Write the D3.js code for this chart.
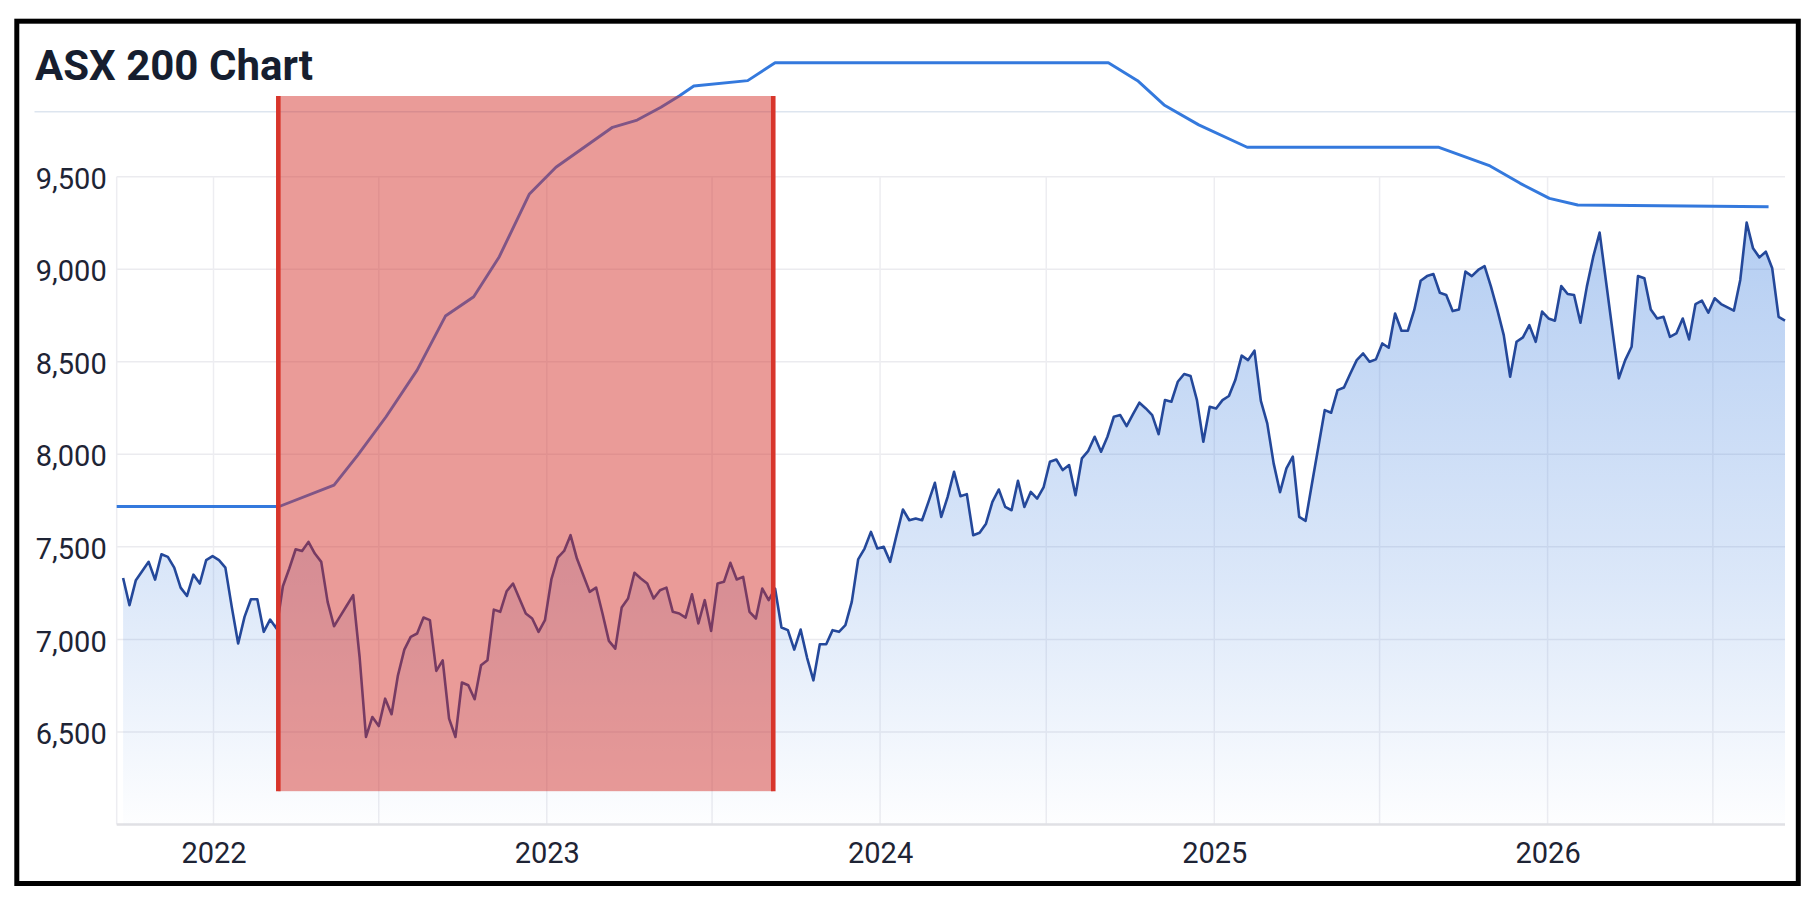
<!DOCTYPE html>
<html>
<head>
<meta charset="utf-8">
<script src="https://d3js.org/d3.v7.min.js"></script>
<style>
  body { margin: 0; background: #fff; }
  text { font-family: Roboto, "Liberation Sans", sans-serif; }
</style>
</head>
<body>
<svg id="chart" width="1816" height="906"></svg>
<script>
try {

/*========================================
	Data
========================================*/

// weekly closes, first one on this friday
var firstWeek = "2021-09-24";

var asxValues = [
  7332, 7185, 7320, 7370, 7419, 7323, 7460, 7446, 7388, 7280,
  7235, 7350, 7302, 7428, 7450, 7428, 7388, 7176, 6978, 7122,
  7217, 7217, 7041, 7107, 7059, 7287, 7383, 7487, 7478, 7527,
  7464, 7419, 7203, 7071, 7127, 7183, 7239, 6905, 6473, 6581,
  6532, 6680, 6596, 6806, 6945, 7014, 7032, 7118, 7104, 6830,
  6887, 6572, 6473, 6767, 6752, 6677, 6860, 6887, 7161, 7149,
  7260, 7302, 7221, 7140, 7113, 7041, 7104, 7324, 7442, 7478,
  7563, 7437, 7347, 7257, 7280, 7140, 6992, 6950, 7172, 7221,
  7360, 7329, 7302, 7221, 7266, 7280, 7149, 7140, 7118, 7244,
  7086, 7212, 7046, 7302, 7311, 7414, 7324, 7338, 7149, 7113,
  7275, 7212, 7275, 7064, 7050, 6945, 7053, 6902, 6779, 6974,
  6974, 7050, 7041, 7077, 7203, 7432, 7491, 7581, 7491, 7500,
  7419, 7563, 7702, 7644, 7653, 7644, 7743, 7846, 7662, 7770,
  7906, 7774, 7785, 7563, 7576, 7625, 7743, 7810, 7716, 7698,
  7857, 7716, 7797, 7761, 7821, 7960, 7972, 7915, 7942, 7779,
  7978, 8019, 8095, 8014, 8095, 8203, 8212, 8152, 8217, 8279,
  8248, 8212, 8109, 8293, 8284, 8392, 8434, 8423, 8293, 8068,
  8257, 8248, 8293, 8315, 8401, 8533, 8509, 8560, 8289, 8167,
  7951, 7795, 7924, 7987, 7662, 7641, 7842, 8041, 8239, 8225,
  8347, 8361, 8437, 8509, 8545, 8500, 8513, 8599, 8576, 8761,
  8668, 8668, 8780, 8938, 8963, 8974, 8873, 8861, 8774, 8783,
  8987, 8963, 8996, 9017, 8906, 8780, 8644, 8419, 8608, 8632,
  8698, 8608, 8771, 8734, 8722, 8909, 8866, 8861, 8711, 8906,
  9068, 9198, 8934, 8671, 8410, 8509, 8581, 8963, 8951, 8783,
  8734, 8743, 8635, 8653, 8734, 8621, 8812, 8830, 8765, 8843,
  8812, 8794, 8776, 8942, 9252, 9113, 9064, 9095, 9005, 8743, 8722
];

// upper blue line (same scale as the index)
var rateDates = [
  "2021-09-17", "2022-03-14", "2022-05-13", "2022-06-08", "2022-07-09",
  "2022-08-12", "2022-09-12", "2022-10-13", "2022-11-10", "2022-12-13",
  "2023-01-11", "2023-03-14", "2023-04-10", "2023-05-06", "2023-05-26",
  "2023-06-11", "2023-08-09", "2023-09-08", "2024-09-07", "2024-10-09",
  "2024-11-07", "2024-12-15", "2025-02-06", "2025-09-04", "2025-10-30",
  "2025-12-02", "2026-01-03", "2026-02-03", "2026-08-31"
];
var rateValues = [
  7718, 7718, 7834, 7996, 8203,
  8455, 8747, 8851, 9068, 9407,
  9551, 9767, 9806, 9875, 9936,
  9990, 10019, 10116, 10116, 10019,
  9888, 9780, 9659, 9659, 9558,
  9464, 9383, 9347, 9338
];

// highlighted red period
var bandDates = ["2022-03-13", "2023-09-06"];
var bandValues = [6180, 9936];

var xDomainDates = ["2021-09-17", "2026-09-18"];
var yDomain = [6000, 9500];
var yTicks = [6500, 7000, 7500, 8000, 8500, 9000, 9500];

var titleText = "ASX 200 Chart";

/*========================================
	Setup
========================================*/

var parseDate = d3.timeParse("%Y-%m-%d");
var svg = d3.select("#chart");

var plot = { left: 116.7, right: 1785, top: 176.7, bottom: 824.5 };

var x = d3.scaleTime()
  .domain(xDomainDates.map(parseDate))
  .range([plot.left, plot.right]);

var y = d3.scaleLinear()
  .domain(yDomain)
  .range([plot.bottom, plot.top]);

var start = parseDate(firstWeek);
var asxData = asxValues.map(function(v, i){
  return { date: d3.timeDay.offset(start, i * 7), value: v };
});
var rateData = rateDates.map(function(d, i){
  return { date: parseDate(d), value: rateValues[i] };
});

svg.append("rect")
  .attr("width", 1816).attr("height", 906)
  .attr("fill", "#fff");

// header separator
svg.append("line")
  .attr("x1", 34.5).attr("x2", 1796)
  .attr("y1", 111.7).attr("y2", 111.7)
  .attr("stroke", "#dde5ef")
  .attr("stroke-width", 1.6);

/*========================================
	Grid
========================================*/

var grid = svg.append("g");

grid.selectAll(".hgrid")
  .data(yTicks)
  .enter().append("line")
  .attr("class", "hgrid")
  .attr("x1", plot.left).attr("x2", plot.right)
  .attr("y1", function(d){ return y(d); })
  .attr("y2", function(d){ return y(d); })
  .attr("stroke", "#ebebef")
  .attr("stroke-width", 1.5);

var halfYears = x.ticks(d3.timeMonth.every(6));
grid.selectAll(".vgrid")
  .data([x.domain()[0]].concat(halfYears))
  .enter().append("line")
  .attr("class", "vgrid")
  .attr("x1", function(d){ return x(d); })
  .attr("x2", function(d){ return x(d); })
  .attr("y1", plot.top).attr("y2", plot.bottom)
  .attr("stroke", "#ededf1")
  .attr("stroke-width", 1.5);

// bottom base line
svg.append("line")
  .attr("x1", plot.left).attr("x2", plot.right)
  .attr("y1", y(yDomain[0])).attr("y2", y(yDomain[0]))
  .attr("stroke", "#e1e1e5")
  .attr("stroke-width", 2.6);

/*========================================
	Series
========================================*/

var defs = svg.append("defs");
var grad = defs.append("linearGradient")
  .attr("id", "areaGrad")
  .attr("x1", 0).attr("y1", 0).attr("x2", 0).attr("y2", 1);
grad.append("stop").attr("offset", "0%").attr("stop-color", "#3b7ddd").attr("stop-opacity", 0.38);
grad.append("stop").attr("offset", "60%").attr("stop-color", "#3b7ddd").attr("stop-opacity", 0.18);
grad.append("stop").attr("offset", "100%").attr("stop-color", "#3b7ddd").attr("stop-opacity", 0.01);

var area = d3.area()
  .x(function(d){ return x(d.date); })
  .y0(y(yDomain[0]))
  .y1(function(d){ return y(d.value); });

svg.append("path")
  .datum(asxData)
  .attr("d", area)
  .attr("fill", "url(#areaGrad)");

var line = d3.line()
  .x(function(d){ return x(d.date); })
  .y(function(d){ return y(d.value); });

svg.append("path")
  .datum(asxData)
  .attr("d", line)
  .attr("fill", "none")
  .attr("stroke", "#24489a")
  .attr("stroke-width", 2.6)
  .attr("stroke-linejoin", "round");

svg.append("path")
  .datum(rateData)
  .attr("d", line)
  .attr("fill", "none")
  .attr("stroke", "#3479dd")
  .attr("stroke-width", 2.9)
  .attr("stroke-linejoin", "round");

/*========================================
	Red band
========================================*/

var bx0 = x(parseDate(bandDates[0]));
var bx1 = x(parseDate(bandDates[1]));
var by0 = y(bandValues[1]);
var by1 = y(bandValues[0]);

svg.append("rect")
  .attr("x", bx0).attr("y", by0)
  .attr("width", bx1 - bx0).attr("height", by1 - by0)
  .attr("fill", "rgba(212,46,40,0.48)");

svg.selectAll(".bandEdge")
  .data(bandDates)
  .enter().append("line")
  .attr("class", "bandEdge")
  .attr("x1", function(d){ return x(parseDate(d)); })
  .attr("x2", function(d){ return x(parseDate(d)); })
  .attr("y1", by0).attr("y2", by1)
  .attr("stroke", "#d8352b")
  .attr("stroke-width", 4.6);

/*========================================
	Axes
========================================*/

var yAxis = svg.append("g")
  .attr("transform", "translate(" + plot.left + ",0)")
  .call(d3.axisLeft(y).tickValues(yTicks).tickFormat(d3.format(",")).tickSize(0).tickPadding(10));

var xAxis = svg.append("g")
  .attr("transform", "translate(0," + plot.bottom + ")")
  .call(d3.axisBottom(x).ticks(d3.timeYear.every(1)).tickFormat(d3.timeFormat("%Y")).tickSize(0).tickPadding(18));

[yAxis, xAxis].forEach(function(ax){
  ax.select(".domain").remove();
  ax.selectAll("text")
    .attr("fill", "#1e2435")
    .style("font-size", "29px")
    .style("font-family", "Roboto, 'Liberation Sans', sans-serif");
});
yAxis.selectAll("text").attr("dy", "0.4em");

/*========================================
	Title + frame
========================================*/

svg.append("text")
  .attr("x", 35).attr("y", 80)
  .attr("fill", "#161e2f")
  .style("font-size", "42px")
  .style("font-weight", "700")
  .text(titleText);

svg.append("rect")
  .attr("x", 16.8).attr("y", 21.2)
  .attr("width", 1781.5).attr("height", 862.3)
  .attr("fill", "none")
  .attr("stroke", "#000")
  .attr("stroke-width", 5);

} catch (e) {
  console.log(e);
}
</script>
</body>
</html>
